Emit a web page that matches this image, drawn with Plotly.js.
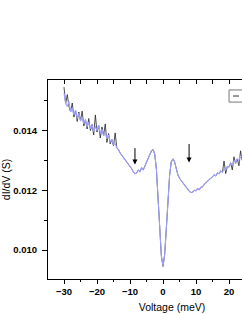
<!DOCTYPE html>
<html><head><meta charset="utf-8">
<script src="https://cdn.plot.ly/plotly-3.0.1.min.js"></script>
<style>html,body{margin:0;padding:0;overflow:hidden;background:#fff}#c{width:300px;height:314px}</style>
</head><body><div id="c"></div>
<script>
const voltage = [-30,-29.5,-29,-28.5,-28,-27.5,-27,-26.5,-26,-25.5,-25,-24.5,-24,-23.5,-23,-22.5,-22,-21.5,-21,-20.5,-20,-19.5,-19,-18.5,-18,-17.5,-17,-16.5,-16,-15.5,-15,-14.5,-14,-13.5,-13,-12.5,-12,-11.5,-11,-10.5,-10,-9.5,-9,-8.5,-8,-7.5,-7,-6.5,-6,-5.5,-5,-4.5,-4,-3.5,-3,-2.5,-2,-1.5,-1,-0.5,0,0.5,1,1.5,2,2.5,3,3.5,4,4.5,5,5.5,6,6.5,7,7.5,8,8.5,9,9.5,10,10.5,11,11.5,12,12.5,13,13.5,14,14.5,15,15.5,16,16.5,17,17.5,18,18.5,19,19.5,20,20.5,21,21.5,22,22.5,23,23.5,24,24.5];
const dIdV_smooth = [0.01525,0.01490,0.01480,0.01498,0.01462,0.01475,0.01452,0.01468,0.01440,0.01458,0.01432,0.01445,0.01422,0.01436,0.01412,0.01428,0.01406,0.01420,0.01396,0.01414,0.01400,0.01418,0.01390,0.01404,0.01382,0.01395,0.01372,0.01385,0.01362,0.01370,0.01352,0.01356,0.01342,0.01336,0.01325,0.01318,0.01310,0.01302,0.01296,0.01288,0.01280,0.01272,0.01262,0.01255,0.01258,0.01268,0.01262,0.01275,0.01268,0.01282,0.01290,0.01305,0.01320,0.01332,0.01336,0.01320,0.01270,0.01160,0.01060,0.00980,0.00945,0.00985,0.01070,0.01170,0.01250,0.01295,0.01305,0.01295,0.01272,0.01252,0.01240,0.01232,0.01225,0.01218,0.01208,0.01200,0.01196,0.01192,0.01194,0.01200,0.01198,0.01205,0.01202,0.01210,0.01212,0.01220,0.01224,0.01230,0.01236,0.01240,0.01245,0.01252,0.01248,0.01258,0.01255,0.01265,0.01260,0.01272,0.01268,0.01280,0.01278,0.01290,0.01285,0.01298,0.01292,0.01305,0.01300,0.01315,0.01312,0.01325];
const dIdV_raw = [0.01545,0.01490,0.01520,0.01480,0.01462,0.01492,0.01445,0.01468,0.01430,0.01462,0.01432,0.01465,0.01415,0.01436,0.01405,0.01440,0.01400,0.01420,0.01385,0.01452,0.01395,0.01418,0.01375,0.01412,0.01382,0.01422,0.01360,0.01390,0.01355,0.01370,0.01348,0.01392,0.01342,0.01336,0.01325,0.01318,0.01310,0.01302,0.01296,0.01288,0.01280,0.01272,0.01262,0.01255,0.01258,0.01268,0.01262,0.01275,0.01268,0.01282,0.01290,0.01305,0.01320,0.01332,0.01336,0.01320,0.01270,0.01160,0.01060,0.00980,0.00945,0.00985,0.01070,0.01170,0.01250,0.01295,0.01305,0.01295,0.01272,0.01252,0.01240,0.01232,0.01225,0.01218,0.01208,0.01200,0.01196,0.01192,0.01194,0.01200,0.01198,0.01205,0.01202,0.01210,0.01212,0.01220,0.01224,0.01230,0.01236,0.01240,0.01245,0.01252,0.01248,0.01258,0.01255,0.01265,0.01260,0.01298,0.01256,0.01280,0.01278,0.01292,0.01268,0.01312,0.01290,0.01305,0.01282,0.01332,0.01300,0.01342];
const xTickVals = [-30, -20, -10, 0, 10, 20];
const arrowTips = [[-8.5, 0.01286], [7.9, 0.01293]];
const arrowTails = [[-8.5, 0.01346], [7.9, 0.01360]];

const traces = [
  {x: voltage, y: dIdV_raw, mode: 'lines', name: 'raw', line: {color: '#222222', width: 0.8}, showlegend: false},
  {x: voltage, y: dIdV_smooth, mode: 'lines', name: 'smooth', line: {color: '#a0a0ff', width: 1.1}, showlegend: false},
  {x: voltage, y: dIdV_smooth, xaxis: 'x2', mode: 'lines', line: {width: 0}, opacity: 0, showlegend: false, hoverinfo: 'skip'}
];
const fam = 'Liberation Sans, Arial, sans-serif';
const tickFont = {family: fam, size: 9.5, color: '#000', weight: 'bold'};
const layout = {
  width: 300, height: 314,
  margin: {l: 48, r: 4, t: 80, b: 35},
  paper_bgcolor: '#fff', plot_bgcolor: '#fff',
  showlegend: false,
  xaxis: {range: [-34.85, 40.3], tickmode: 'array', tickvals: xTickVals, ticks: 'outside', ticklen: 4, tickwidth: 1, tickcolor: '#000',
    minor: {dtick: 5, tick0: 0, ticks: 'outside', ticklen: 2, tickcolor: '#000'},
    showline: true, linecolor: '#000', linewidth: 1, showgrid: false, zeroline: false,
    tickfont: tickFont,
    title: {text: 'Voltage (meV)', font: {family: fam, size: 10.5, color: '#000'}, standoff: 7}},
  xaxis2: {overlaying: 'x', side: 'top', range: [-34.85, 40.3], dtick: 10, tick0: 0, ticks: 'inside', ticklen: 4, tickcolor: '#000',
    minor: {dtick: 5, ticks: 'inside', ticklen: 4, tickcolor: '#000'},
    showticklabels: false, showline: true, linecolor: '#000', linewidth: 1, showgrid: false, zeroline: false},
  yaxis: {range: [0.00903, 0.01569], dtick: 0.002, tick0: 0, tickformat: '.3f', ticks: 'outside', ticklen: 5, tickcolor: '#000',
    ticklabelstandoff: 3,
    minor: {dtick: 0.001, ticks: 'outside', ticklen: 3, tickcolor: '#000'},
    showline: true, linecolor: '#000', linewidth: 1, showgrid: false, zeroline: false, mirror: true,
    tickfont: tickFont,
    title: {text: 'dI/dV (S)', font: {family: fam, size: 10.5, color: '#000'}, standoff: 1}},
  shapes: [
    {type: 'rect', xref: 'paper', yref: 'paper', x0: 0.73, x1: 0.95, y0: 0.889, y1: 0.95, line: {color: '#777', width: 1}, fillcolor: '#fff'},
    {type: 'line', xref: 'paper', yref: 'paper', x0: 0.746, x1: 0.770, y0: 0.9195, y1: 0.9195, line: {color: '#333', width: 1}}
  ],
  annotations: arrowTips.map((t, i) => ({x: t[0], y: t[1], ax: arrowTails[i][0], ay: arrowTails[i][1], axref: 'x', ayref: 'y', xref: 'x', yref: 'y',
    text: '', showarrow: true, arrowhead: 2, arrowsize: 1, arrowwidth: 1, arrowcolor: '#000'}))
};
Plotly.newPlot('c', traces, layout, {staticPlot: true, displayModeBar: false});
</script>
</body></html>
